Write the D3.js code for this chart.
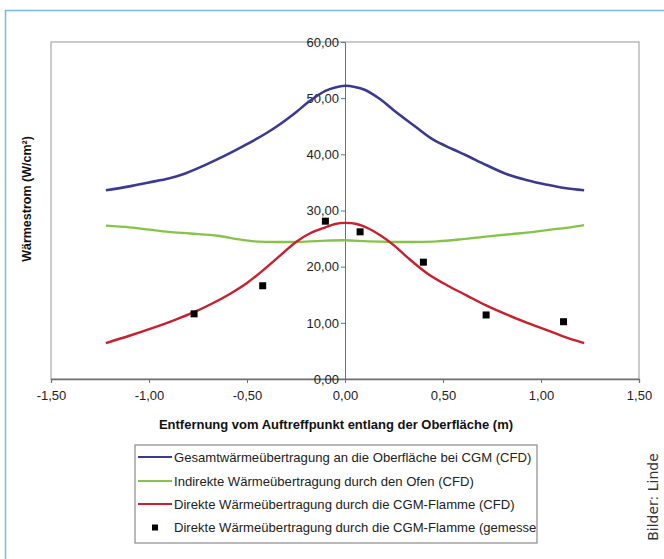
<!DOCTYPE html>
<html><head><meta charset="utf-8">
<script src="https://cdn.jsdelivr.net/npm/d3@7"></script>
<style>body{margin:0;background:#fff;} svg{display:block;}</style>
</head><body>
<svg id="c" width="664" height="559"></svg>
<script>
const xTicks = [-1.5,-1,-0.5,0,0.5,1,1.5];
const yTicks = [0,10,20,30,40,50,60];
const seriesNames = [
  "Gesamtwärmeübertragung an die Oberfläche bei CGM (CFD)",
  "Indirekte Wärmeübertragung durch den Ofen (CFD)",
  "Direkte Wärmeübertragung durch die CGM-Flamme (CFD)",
  "Direkte Wärmeübertragung durch die CGM-Flamme (gemessen)"
];
const gesamtX = [-1.22,-1.10,-1.00,-0.90,-0.83,-0.72,-0.61,-0.50,-0.40,-0.33,-0.25,-0.18,-0.10,-0.05,0.00,0.05,0.10,0.18,0.25,0.36,0.45,0.55,0.62,0.72,0.83,0.93,1.03,1.12,1.22];
const gesamtY = [33.6,34.3,35.0,35.7,36.4,38.0,39.8,41.8,43.8,45.4,47.5,49.5,51.3,51.9,52.2,52.0,51.5,49.8,47.8,44.9,42.6,40.9,39.8,38.1,36.4,35.4,34.6,34.0,33.6];
const indirektX = [-1.22,-1.10,-1.00,-0.90,-0.79,-0.65,-0.55,-0.46,-0.35,-0.25,-0.12,0.00,0.12,0.25,0.35,0.47,0.60,0.73,0.85,0.94,1.05,1.15,1.22];
const indirektY = [27.3,27.0,26.6,26.2,25.9,25.5,24.9,24.5,24.4,24.4,24.6,24.7,24.5,24.4,24.4,24.5,24.9,25.4,25.8,26.1,26.6,27.0,27.4];
const direktX = [-1.22,-1.10,-0.98,-0.87,-0.77,-0.68,-0.59,-0.50,-0.42,-0.33,-0.25,-0.18,-0.10,-0.05,0.00,0.06,0.12,0.18,0.25,0.32,0.42,0.52,0.62,0.72,0.83,0.93,1.03,1.12,1.22];
const direktY = [6.4,7.7,9.1,10.5,11.9,13.4,15.1,17.1,19.3,22.0,24.4,25.9,27.0,27.6,27.8,27.6,26.8,25.6,23.8,21.6,18.8,16.7,14.9,13.1,11.4,10.0,8.7,7.5,6.4];
const messX = [-0.77,-0.42,-0.10,0.077,0.40,0.72,1.115];
const messY = [11.6,16.6,28.1,26.2,20.8,11.4,10.2];

const colors = ["#3b3a93","#86c449","#c8202e","#000"];
const svg = d3.select("#c");
const L=51, R=639, T=42, B=379;
const x = d3.scaleLinear().domain([-1.5,1.5]).range([L,R]);
const y = d3.scaleLinear().domain([0,60]).range([B,T]);
const fmt = d => (d<0?"-":"") + d3.format(".2f")(Math.abs(d)).replace(".",",");

// outer blue frame
svg.append("path").attr("d","M5.5,559 V10.5 H664").attr("fill","none").attr("stroke","#79b7e8").attr("stroke-width",1.5);

// plot border
svg.append("rect").attr("x",L).attr("y",T).attr("width",R-L).attr("height",B-T)
  .attr("fill","none").attr("stroke","#a8a8a8").attr("stroke-width",1.2);

const font = "Liberation Sans, Arial, sans-serif";

// x axis
const xa = svg.append("g").attr("transform",`translate(0,${B})`)
  .call(d3.axisBottom(x).tickValues(xTicks).tickFormat(fmt).tickSize(4).tickPadding(8));
xa.select(".domain").attr("stroke","#707070").attr("stroke-width",1.3);
xa.selectAll(".tick line").attr("stroke","#707070");
xa.selectAll("text").attr("font-family",font).attr("font-size",13).attr("fill","#222");

// y axis at x=0
const ya = svg.append("g").attr("transform",`translate(${x(0)},0)`)
  .call(d3.axisLeft(y).tickValues(yTicks).tickFormat(fmt).tickSize(4).tickPadding(2));
ya.select(".domain").attr("stroke","#707070").attr("stroke-width",1);
ya.selectAll(".tick line").attr("stroke","#707070");
ya.selectAll("text").attr("font-family",font).attr("font-size",13).attr("fill","#222");

// lines
const line = d3.line().x(d=>x(d[0])).y(d=>y(d[1])).curve(d3.curveCatmullRom);
const sets = [[gesamtX,gesamtY],[indirektX,indirektY],[direktX,direktY]];
const widths=[2.6,2.4,2.4];
sets.forEach((s,i)=>{
  svg.append("path").datum(s[0].map((v,j)=>[v,s[1][j]]))
    .attr("d",line).attr("fill","none").attr("stroke",colors[i]).attr("stroke-width",widths[i]).attr("stroke-linejoin","round");
});
// measured squares
svg.selectAll("rect.m").data(messX.map((v,j)=>[v,messY[j]])).enter().append("rect")
  .attr("class","m").attr("x",d=>x(d[0])-3.5).attr("y",d=>y(d[1])-3.5).attr("width",7).attr("height",7).attr("fill","#000");

// axis titles
svg.append("text").attr("x",336).attr("y",429).attr("text-anchor","middle")
  .attr("font-family",font).attr("font-weight","bold").attr("font-size",13).attr("fill","#111")
  .text("Entfernung vom Auftreffpunkt entlang der Oberfläche (m)");
svg.append("text").attr("transform","translate(31,199) rotate(-90)").attr("text-anchor","middle")
  .attr("font-family",font).attr("font-weight","bold").attr("font-size",12.5).attr("fill","#111")
  .text("Wärmestrom (W/cm²)");

// legend
const lgX=135, lgY=445, lgW=402, lgH=98;
svg.append("defs").append("clipPath").attr("id","lgclip").append("rect")
  .attr("x",lgX).attr("y",lgY).attr("width",lgW-1).attr("height",lgH);
svg.append("rect").attr("x",lgX).attr("y",lgY).attr("width",lgW).attr("height",lgH)
  .attr("fill","#fff").attr("stroke","#8a8a8a").attr("stroke-width",1.2);
const lg = svg.append("g").attr("clip-path","url(#lgclip)");
const rowY=[457,481,504,527.5];
seriesNames.forEach((n,i)=>{
  if(i<3){
    lg.append("line").attr("x1",138).attr("x2",172).attr("y1",rowY[i]).attr("y2",rowY[i])
      .attr("stroke",colors[i]).attr("stroke-width",2.2);
  } else {
    lg.append("rect").attr("x",152).attr("y",rowY[i]-3).attr("width",6).attr("height",6).attr("fill","#000");
  }
  lg.append("text").attr("x",174).attr("y",rowY[i]).attr("dy","0.36em")
    .attr("font-family",font).attr("font-size",13.1).attr("fill","#222").text(n);
});

// credit
svg.append("text").attr("transform","translate(658,497) rotate(-90)").attr("text-anchor","middle")
  .attr("font-family","DejaVu Sans, sans-serif").attr("font-size",14).attr("fill","#333")
  .text("Bilder: Linde");
</script>
</body></html>
